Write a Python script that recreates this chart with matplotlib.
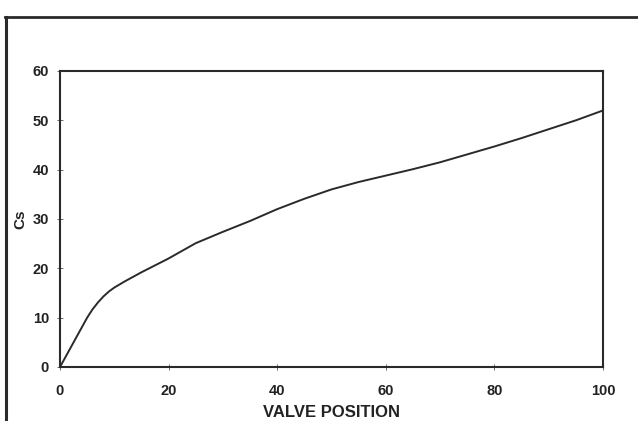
import numpy as np
import matplotlib.pyplot as plt
from matplotlib.lines import Line2D

# valores
posicao = [0, 1, 2, 3, 4, 5, 6, 7, 8, 9, 10, 12, 15, 20, 25, 30, 35, 40, 45, 50,
           55, 60, 65, 70, 75, 80, 85, 90, 95, 100]
cs = [0, 2, 4, 6, 8, 10, 11.7, 13.1, 14.3, 15.3, 16.1, 17.4, 19.2, 22, 25.1, 27.4, 29.6, 32, 34.1, 36,
      37.5, 38.8, 40.1, 41.5, 43.1, 44.7, 46.4, 48.2, 50, 52]
xticks = [0, 20, 40, 60, 80, 100]
yticks = [0, 10, 20, 30, 40, 50, 60]

plt.rcParams['font.family'] = ['Liberation Sans', 'DejaVu Sans']

fig = plt.figure(figsize=(6.38, 4.21), dpi=100)
ax = fig.add_axes([60/638, 1 - 367/421, 543/638, 296/421])

ax.plot(posicao, cs, color='#2a2a2a', linewidth=1.4)

ax.set_xlim(0, 100)
ax.set_ylim(0, 60)
ax.set_xticks(xticks)
ax.set_yticks(yticks)
ax.tick_params(direction='inout', length=4, width=0.6, color='#555555',
               labelsize=10.5)
ax.tick_params(axis='x', pad=10)
ax.tick_params(axis='y', pad=6)
for lbl in ax.get_xticklabels() + ax.get_yticklabels():
    lbl.set_fontweight('bold')
    lbl.set_color('#222222')
for s in ax.spines.values():
    s.set_linewidth(1.5)
    s.set_color('#2a2a2a')

ax.set_xlabel('VALVE POSITION', fontsize=12, fontweight='bold', color='#222222', labelpad=5)
ax.set_ylabel('Cs', fontsize=11, fontweight='bold', color='#222222')
ax.yaxis.set_label_coords(-33/543, 0.5)

# moldura externa
fig.add_artist(Line2D([6/638, 6/638], [0, 1 - 17/421], transform=fig.transFigure,
                      color='#2a2a2a', linewidth=2.2))
fig.add_artist(Line2D([5/638, 1], [1 - 17/421, 1 - 17/421], transform=fig.transFigure,
                      color='#2a2a2a', linewidth=2.0))

plt.savefig('out.png', dpi=100)
